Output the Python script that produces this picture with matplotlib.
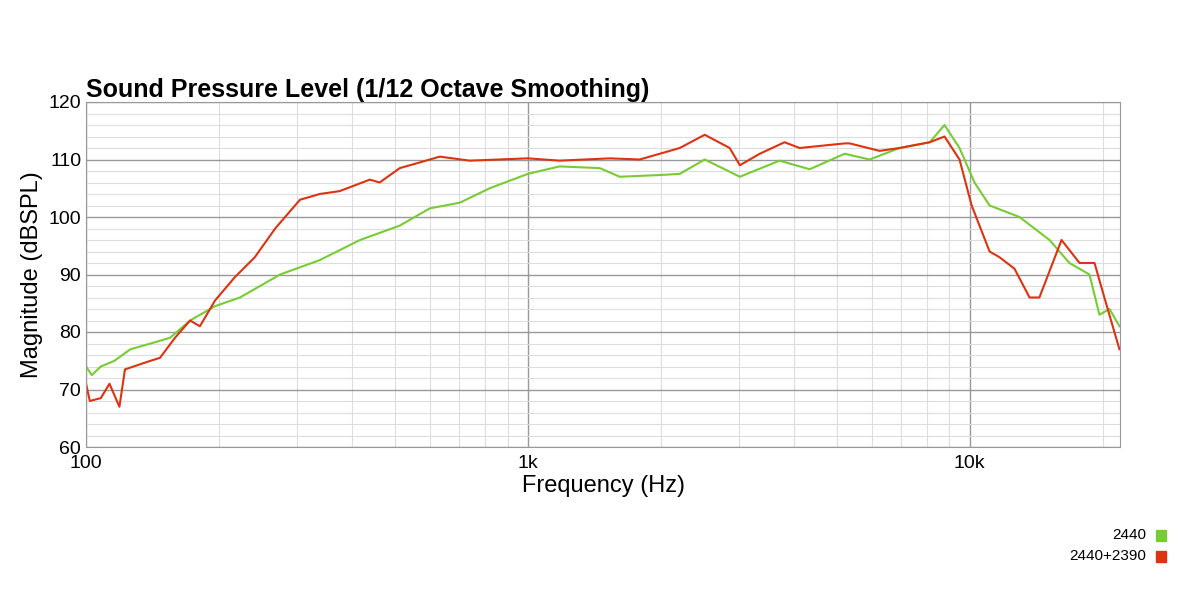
import matplotlib
matplotlib.use("Agg")
import matplotlib.pyplot as plt
from matplotlib.ticker import FixedLocator, MultipleLocator, NullFormatter

plt.rcParams["font.family"] = "Liberation Sans"

green_f = [100,103,108,116,126,140,155,172,196,223,275,338,417,513,600,702,820,1000,1180,1455,1615,1990,2208,2515,3020,3715,4345,5215,5940,6945,8125,8775,9490,10260,11100,12970,15170,16830,18680,19680,20740,21840]
green_db = [74,72.5,74,75,77,78,79,82,84.5,86,90,92.5,96,98.5,101.5,102.5,105,107.5,108.8,108.5,107,107.3,107.5,110,107,109.8,108.3,111,110,112,113,116,112,106,102,100,96,92,90,83,84,81]
red_f = [100,102,108,113,119,122.5,140,147,159,172,181,196,217,241,268,305,338,375,439,462,513,570,632,739,1000,1180,1534,1792,2208,2515,2864,3020,3350,3812,4125,5215,5355,6255,6945,8125,8775,9490,10110,11100,11690,12640,13670,14390,16150,17740,19180,20190,21840]
red_db = [71,68,68.5,71,67,73.5,75,75.5,79,82,81,85.5,89.5,93,98,103,104,104.5,106.5,106,108.5,109.5,110.5,109.8,110.2,109.8,110.2,110,112,114.3,112,109,111,113,112,112.8,112.8,111.5,112,113,114,110,102,94,93,91,86,86,96,92,92,86,77]
labels = ["2440", "2440+2390"]
colors = ["#77cc33", "#dd3311"]

fig = plt.figure(figsize=(12, 6), dpi=100)
ax = fig.add_axes([0.0717, 0.255, 0.8616, 0.575])
ax.plot(green_f, green_db, color=colors[0], lw=1.5)
ax.plot(red_f, red_db, color=colors[1], lw=1.5)
ax.set_xscale("log")
ax.set_xlim(100, 21900)
ax.set_ylim(60, 120)
ax.xaxis.set_major_locator(FixedLocator([100, 1000, 10000]))
ax.set_xticklabels(["100", "1k", "10k"])
ax.xaxis.set_minor_locator(FixedLocator([m * d for d in (100, 1000, 10000) for m in range(2, 10) if m * d < 22000]))
ax.xaxis.set_minor_formatter(NullFormatter())
ax.yaxis.set_major_locator(MultipleLocator(10))
ax.yaxis.set_minor_locator(MultipleLocator(2))
ax.grid(which="major", color="#999999", lw=1)
ax.grid(which="minor", color="#dddddd", lw=0.8)
ax.tick_params(which="both", length=0, labelsize=14)
ax.tick_params(axis="x", pad=6)
for s in ax.spines.values():
    s.set_color("#999999")
ax.set_xlabel("Frequency (Hz)", fontsize=17, labelpad=2)
ax.set_ylabel("Magnitude (dBSPL)", fontsize=17)
ax.set_title("Sound Pressure Level (1/12 Octave Smoothing)", loc="left", fontsize=18, fontweight="bold", pad=2, x=0)
for i, (l, c) in enumerate(zip(labels, colors)):
    y = 0.108 - i * 0.035
    fig.text(0.955, y, l, ha="right", va="center", fontsize=11)
    fig.patches.append(plt.Rectangle((0.963, y - 0.009), 0.0085, 0.017, transform=fig.transFigure, color=c))
fig.savefig("out.png")
